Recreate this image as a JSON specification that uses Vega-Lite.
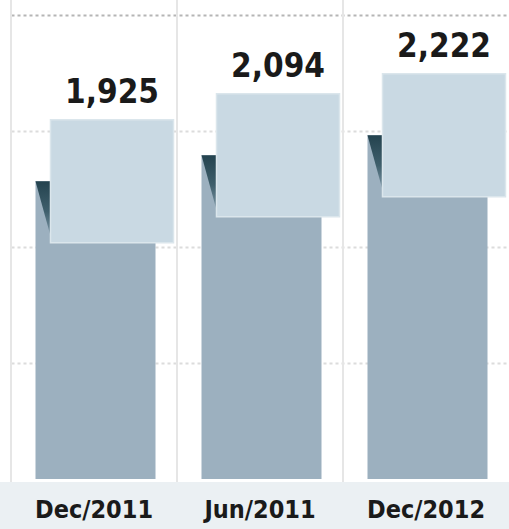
{
  "$schema": "https://vega.github.io/schema/vega-lite/v6.json",
  "width": 509,
  "height": 482,
  "autosize": "none",
  "padding": {"left": 0, "top": 0, "right": 0, "bottom": 47},
  "background": "#ebf0f3",
  "config": {"view": {"stroke": null, "fill": "#ffffff"}},
  "data": {"values": [
    {"period": "Dec/2011", "value": 1925},
    {"period": "Jun/2011", "value": 2094},
    {"period": "Dec/2012", "value": 2222}
  ]},
  "encoding": {
    "x": {
      "field": "period", "type": "nominal", "sort": null,
      "scale": {"range": [11, 509], "paddingInner": 0, "paddingOuter": 0},
      "axis": {"title": null, "domain": false, "ticks": false, "labelAngle": 0,
        "labelFont": "DejaVu Sans Condensed, sans-serif",
        "labelFontWeight": "bold", "labelFontSize": 25, "labelColor": "#1a1a1a",
        "labelPadding": 15, "grid": false}
    },
    "y": {
      "field": "value", "type": "quantitative",
      "scale": {"domain": [-19, 3097], "nice": false, "zero": false},
      "axis": {"title": null, "labels": false, "ticks": false, "domain": false,
        "values": [750, 1500, 2250, 3000], "grid": true, "gridDash": [3, 3],
        "gridColor": {"condition": {"test": "datum.value === 3000", "value": "#b5b5b5"}, "value": "#dcdcdc"},
        "gridWidth": 2}
    }
  },
  "layer": [
    {
      "mark": {"type": "rule", "xOffset": -83, "color": "#e6e6e6", "strokeWidth": 2},
      "encoding": {"x": {"field": "period", "type": "nominal", "sort": null}, "y": null}
    },
    {
      "mark": {"type": "bar", "width": 120, "xOffset": 1.5, "color": "#9cb0bf"}
    },
    {
      "mark": {"type": "point", "filled": true, "opacity": 1, "size": 3600, "xOffset": -58.5,
        "shape": "M 0 0 L 0.8 0 L 0.8 2 L 0.55 2 Z",
        "fill": {"gradient": "linear", "x1": 0, "y1": 0, "x2": 0, "y2": 1,
          "stops": [{"offset": 0, "color": "#24434f"}, {"offset": 0.5, "color": "#3f5f6c"}, {"offset": 1, "color": "#8aa2b2"}]},
        "strokeWidth": 0}
    },
    {
      "mark": {"type": "point", "shape": "square", "filled": true, "opacity": 1, "size": 15129,
        "xOffset": 18, "color": "#c9d9e3", "stroke": "#dbe6ec", "strokeWidth": 1.5}
    },
    {
      "mark": {"type": "text", "xOffset": 18, "yOffset": -78, "baseline": "alphabetic", "align": "center",
        "font": "DejaVu Sans Condensed, sans-serif",
        "fontWeight": "bold", "fontSize": 33, "color": "#1a1a1a"},
      "encoding": {"text": {"field": "value", "type": "quantitative", "format": ","}}
    }
  ]
}
